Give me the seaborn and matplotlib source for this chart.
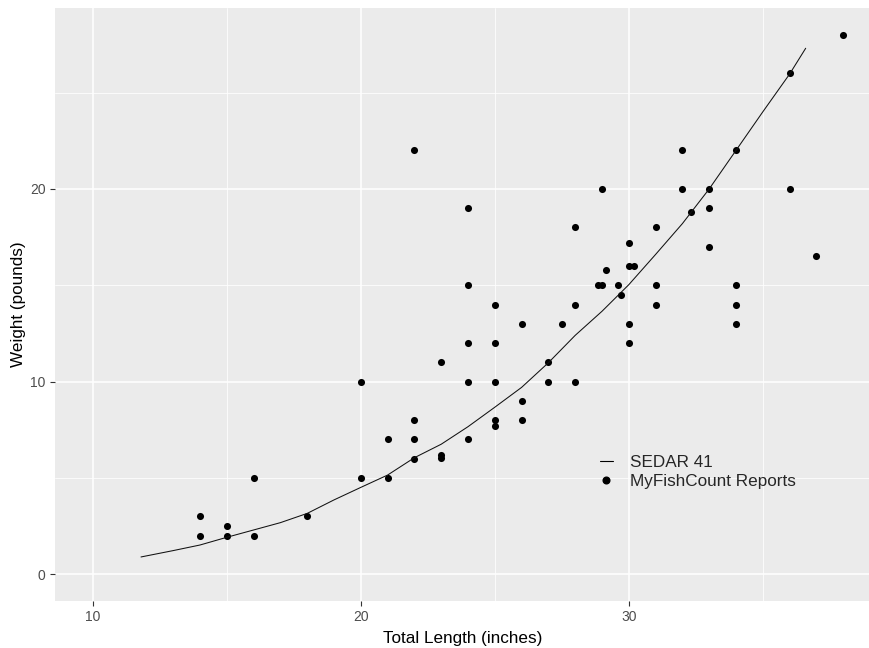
import matplotlib
matplotlib.use("Agg")
import matplotlib.pyplot as plt
import seaborn as sns
import pandas as pd
from matplotlib.lines import Line2D

# Reported fish (MyFishCount Reports)
report_length = [14, 14, 15, 15, 16, 16, 18, 20, 20, 21, 21, 22, 22, 22, 22,
                 23, 23, 23, 24, 24, 24, 24, 24, 25, 25, 25, 25, 25, 26, 26, 26,
                 27, 27, 27.5, 28, 28, 28, 29, 28.85, 29, 29.14, 29.6, 29.7,
                 30, 30, 30.2, 30, 30, 31, 31, 31, 32, 32, 32.33, 33, 33, 33,
                 34, 34, 34, 34, 36, 36, 37, 38]
report_weight = [3, 2, 2.5, 2, 5, 2, 3, 5, 10, 7, 5, 22, 8, 7, 6,
                 11, 6.2, 6.05, 10, 12, 15, 19, 7, 14, 12, 10, 8, 7.7, 13, 9, 8,
                 11, 10, 13, 18, 14, 10, 20, 15, 15, 15.8, 15, 14.5,
                 17.2, 16, 16, 13, 12, 18, 15, 14, 22, 20, 18.8, 20, 19, 17,
                 22, 15, 14, 13, 26, 20, 16.5, 28]

# SEDAR 41 length-weight curve
sedar_length = [11.8, 13, 14, 15, 16, 17, 18, 19, 20, 21, 22, 23, 24, 25, 26,
                27, 28, 29, 30, 31, 32, 33, 34, 35, 36, 36.6]
sedar_weight = [0.90, 1.23, 1.52, 1.92, 2.30, 2.68, 3.16, 3.86, 4.51, 5.15,
                6.05, 6.75, 7.66, 8.67, 9.70, 10.98, 12.4, 13.65, 15.03, 16.6,
                18.2, 20.0, 22.0, 24.0, 25.96, 27.3]

x_ticks = [10, 20, 30]
y_ticks = [0, 10, 20]
x_label = "Total Length (inches)"
y_label = "Weight (pounds)"
legend_labels = ["SEDAR 41", "MyFishCount Reports"]

sns.set_theme(style="darkgrid", rc={
    "axes.facecolor": "#EBEBEB",
    "grid.color": "white",
})
plt.rcParams["font.family"] = ["Liberation Sans", "DejaVu Sans"]

df_pts = pd.DataFrame({"length": report_length, "weight": report_weight})
df_line = pd.DataFrame({"length": sedar_length, "weight": sedar_weight})

fig = plt.figure(figsize=(8.7, 6.48), dpi=100)
W, H = 870, 648
left, right, top, bottom = 54.7, 870, 8, 600.7
ax = fig.add_axes([left / W, (H - bottom) / H, (right - left) / W, (bottom - top) / H])

sns.lineplot(data=df_line, x="length", y="weight", ax=ax, color="#111111",
             linewidth=0.75, sort=False, estimator=None)
sns.scatterplot(data=df_pts, x="length", y="weight", ax=ax, color="black",
                s=26, linewidth=0)

ax.set_xlim(8.58, 39.0)
ax.set_ylim(-1.37, 29.39)
ax.set_xticks(x_ticks)
ax.set_yticks(y_ticks)
ax.set_xticks([15, 25, 35], minor=True)
ax.set_yticks([5, 15, 25], minor=True)
ax.grid(which="major", color="white", linewidth=1.1)
ax.grid(which="minor", color="white", linewidth=0.55)
for s in ax.spines.values():
    s.set_visible(False)

ax.tick_params(axis="both", which="major", length=3.5, width=0.8, color="#333333",
               labelsize=10, labelcolor="#4D4D4D", pad=3, bottom=True, left=True)
ax.tick_params(axis="both", which="minor", length=0)
ax.set_xlabel(x_label, fontsize=12.3, color="black", labelpad=5)
ax.set_ylabel(y_label, fontsize=12.3, color="black", labelpad=3)

handles = [Line2D([0], [0], color="black", linewidth=0.8),
           Line2D([0], [0], color="black", marker="o", linestyle="none", markersize=4.8)]
ax.legend(handles, legend_labels, loc="upper left", bbox_to_anchor=(0.658, 0.260),
          frameon=False, fontsize=12.3, handlelength=0.75, handletextpad=1.0,
          labelspacing=0.2, borderpad=0)

fig.savefig("out.png", dpi=100)
